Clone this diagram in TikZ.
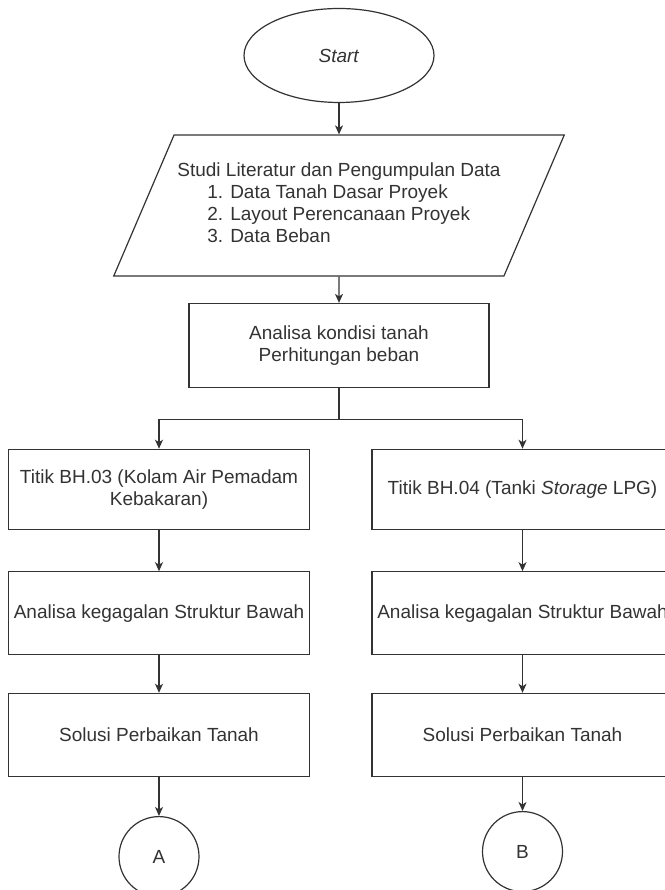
\documentclass[tikz,border=0pt]{standalone}
\usepackage{fontspec}
\setmainfont{Liberation Sans}
\usetikzlibrary{shapes.geometric,positioning,arrows.meta}

\begin{document}
\begin{tikzpicture}[>={Stealth[length=9pt,width=8pt,inset=2.5pt]}, line width=1.2pt,
color=black!80, on grid, font=\fontsize{19}{22}\selectfont,
box/.style={draw, rectangle, minimum width=301pt, minimum height=83pt, inner xsep=2pt, align=center},
conn/.style={draw, circle, minimum size=80pt}]
\useasboundingbox (0,0) rectangle (664pt,890pt);
\node [draw, ellipse, minimum width=190pt, minimum height=94pt] (start) at (339pt,834.5pt) {\textit{Start}};
\node [draw, trapezium, trapezium left angle=57.5, trapezium right angle=122.5,
trapezium stretches body, minimum width=450pt, minimum height=141pt] (data) [below=150pt of start]
{\begin{tabular}{@{}l@{}}
\multicolumn{1}{@{}c@{}}{Studi Literatur dan Pengumpulan Data}\\
\hspace{30pt}1. Data Tanah Dasar Proyek\\
\hspace{30pt}2. Layout Perencanaan Proyek\\
\hspace{30pt}3. Data Beban
\end{tabular}};
\node [box, minimum width=300pt, minimum height=84pt] (analisa) [below=140pt of data] {Analisa kondisi tanah\\Perhitungan beban};
\node [box, minimum height=80pt] (bh03) [below left=143.8pt and 180pt of analisa] {Titik BH.03 (Kolam Air Pemadam\\Kebakaran)};
\node [box, minimum height=80pt] (bh04) [below right=143.8pt and 183.5pt of analisa] {Titik BH.04 (Tanki \textit{Storage} LPG)};
\node [box] (gagal03) [below=124pt of bh03] {Analisa kegagalan Struktur Bawah};
\node [box] (gagal04) [below=124pt of bh04] {Analisa kegagalan Struktur Bawah};
\node [box] (solusi03) [below=121.6pt of gagal03] {Solusi Perbaikan Tanah};
\node [box] (solusi04) [below=121.6pt of gagal04] {Solusi Perbaikan Tanah};
\node [conn] (a) [below=121.7pt of solusi03] {A};
\node [conn] (b) [below=116.7pt of solusi04] {B};
\path [->] (start) edge (data)
(data) edge (analisa)
(bh03) edge (gagal03)
(gagal03) edge (solusi03)
(solusi03) edge (a)
(bh04) edge (gagal04)
(gagal04) edge (solusi04)
(solusi04) edge (b);
\draw [->] (analisa.south) -- ++(0,-31.3pt) -| (bh03.north);
\draw [->] (analisa.south) -- ++(0,-31.3pt) -| (bh04.north);
\end{tikzpicture}
\end{document}
